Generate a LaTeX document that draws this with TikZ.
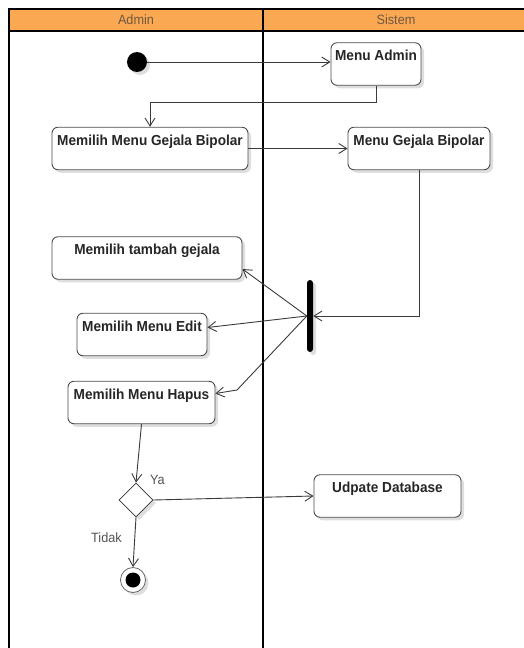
\documentclass[tikz,border=0pt]{standalone}
\usepackage{fontspec}
\setmainfont{Liberation Sans}[FakeStretch=0.94]
\usetikzlibrary{arrows.meta,shapes.geometric,shadows}

\definecolor{laneorange}{RGB}{251,168,82}
\definecolor{lanetext}{RGB}{110,88,66}
\definecolor{wire}{RGB}{58,58,58}
\definecolor{labelgray}{RGB}{85,85,85}

\tikzset{
  softshadow/.style={drop shadow={shadow xshift=3pt,shadow yshift=-3pt,opacity=0.13,fill=black}},
  lane/.style={draw=black,line width=1.4pt},
  lanetitle/.style={font=\fontsize{13.5}{15}\selectfont,text=lanetext,inner sep=0pt},
  act/.style={rectangle,rounded corners=6pt,draw=black!70,line width=0.9pt,fill=white,
    font=\bfseries\fontsize{14.5}{16}\selectfont,text=black!85,
    text height=18pt,text depth=24.5pt,inner ysep=0pt,inner xsep=1pt,softshadow},
  init/.style={circle,fill=black,minimum size=20pt,inner sep=0pt,softshadow},
  final/.style={circle,draw=black!60,line width=0.8pt,fill=white,minimum size=25pt,inner sep=0pt,softshadow,
    path picture={\fill[black] (path picture bounding box.center) circle (7.5pt);}},
  decision/.style={diamond,draw=black!80,line width=0.8pt,fill=white,minimum width=34pt,minimum height=34pt,
    inner sep=0pt,softshadow},
  forkbar/.style={rectangle,rounded corners=3pt,fill=black,minimum width=6pt,minimum height=72pt,
    inner sep=0pt,softshadow},
  flow/.style={draw=wire,line width=0.9pt,-{Straight Barb[length=8pt,width=10pt]}},
  guard/.style={font=\fontsize{13.5}{15}\selectfont,text=labelgray,inner sep=0pt},
}

\begin{document}
\begin{tikzpicture}[x=1pt,y=-1pt]
\useasboundingbox (0,0) rectangle (524,648);

% swimlanes
\fill[laneorange] (9,9) rectangle (530,31);
\draw[lane] (9,648) -- (9,9) -- (530,9);
\draw[lane] (9,31) -- (530,31);
\draw[lane] (263,9) -- (263,648);
\node[lanetitle] (hadmin) at (136,20) {Admin};
\node[lanetitle] (hsistem) at (396,20) {Sistem};

% activities
\node[init] (start) at (137,62) {};
\node[act,minimum width=90pt] (madm) at (376,64) {Menu Admin};
\node[act,minimum width=196pt] (mgp) at (150,148.5) {Memilih Menu Gejala Bipolar};
\node[act,minimum width=142pt] (mgb) at (419,148.5) {Menu Gejala Bipolar};
\node[forkbar] (fork) at (310,316) {};
\node[act,minimum width=190pt] (tambah) at (147,258) {Memilih tambah gejala};
\node[act,minimum width=130pt] (edit) at (142,334.5) {Memilih Menu Edit};
\node[act,minimum width=147pt] (hapus) at (141.5,402.5) {Memilih Menu Hapus};
\node[decision] (dec) at (136,500) {};
\node[act,minimum width=147pt] (upd) at (387.5,496) {Udpate Database};
\node[final] (stop) at (133,580) {};

% guards
\node[guard,anchor=west] (ya) at (150,480) {Ya};
\node[guard,anchor=west] (tidak) at (91,538) {Tidak};

% control flow
\draw[flow] (start.east) -- (start.east -| madm.west);
\draw[flow] (madm.south) -- ++(0,17) -| (mgp.north);
\draw[flow] (mgp.east) -- (mgb.west);
\draw[flow] (mgb.south) |- (fork.east);
\draw[flow] (fork.west) -- ([yshift=-11pt]tambah.east);
\draw[flow] (fork.west) -- ([yshift=7pt]edit.east);
\draw[flow] (fork.west) -- (237,390) -- ([yshift=9pt]hapus.east);
\draw[flow] (hapus.south) -- (dec.north);
\draw[flow] (dec.east) -- (upd.west);
\draw[flow] (dec.south) -- (stop.north);
\end{tikzpicture}
\end{document}
